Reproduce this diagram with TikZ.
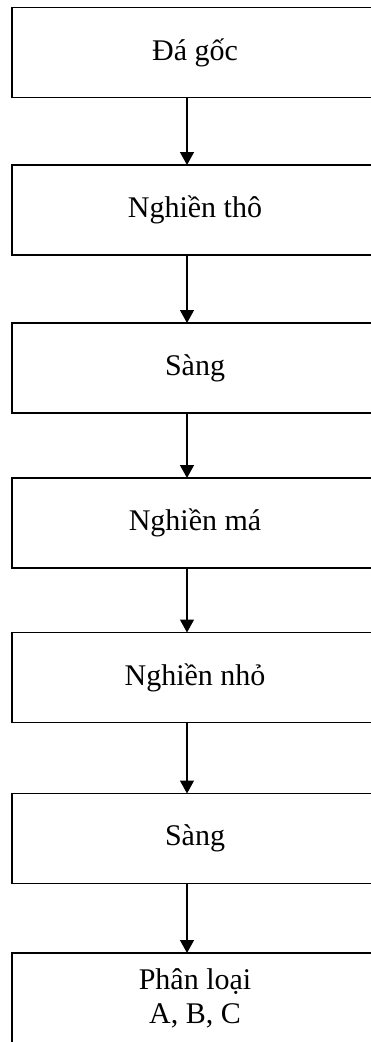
\documentclass[tikz,border=0pt]{standalone}
\usepackage{fontspec}
\setmainfont{Liberation Serif}
\usetikzlibrary{arrows.meta}
\begin{document}
\begin{tikzpicture}[x=1pt,y=-1pt,
  stage/.style={draw, line width=1.3pt, rectangle, minimum width=366pt,
    minimum height=90pt, inner sep=0pt, outer sep=0pt, align=center,
    font=\fontsize{30}{34}\selectfont},
  flow/.style={line width=1.3pt, -{Triangle[length=13pt,width=14pt]}}]
\clip (0,0) rectangle (371,1042);
\useasboundingbox (0,0) rectangle (371,1042);
\node[stage] (b1) at (195,52.5) {Đá gốc};
\node[stage] (b2) at (195,210) {Nghiền thô};
\node[stage] (b3) at (195,368) {Sàng};
\node[stage] (b4) at (195,523) {Nghiền má};
\node[stage] (b5) at (195,677.5) {Nghiền nhỏ};
\node[stage] (b6) at (195,838.5) {Sàng};
\node[stage] (b7) at (195,998) {Phân loại\\A, B, C};
\coordinate (ax) at (187,0);
\foreach \a/\b in {b1/b2,b2/b3,b3/b4,b4/b5,b5/b6,b6/b7}
  \draw[flow] (\a.south -| ax) -- (\b.north -| ax);
\end{tikzpicture}
\end{document}
